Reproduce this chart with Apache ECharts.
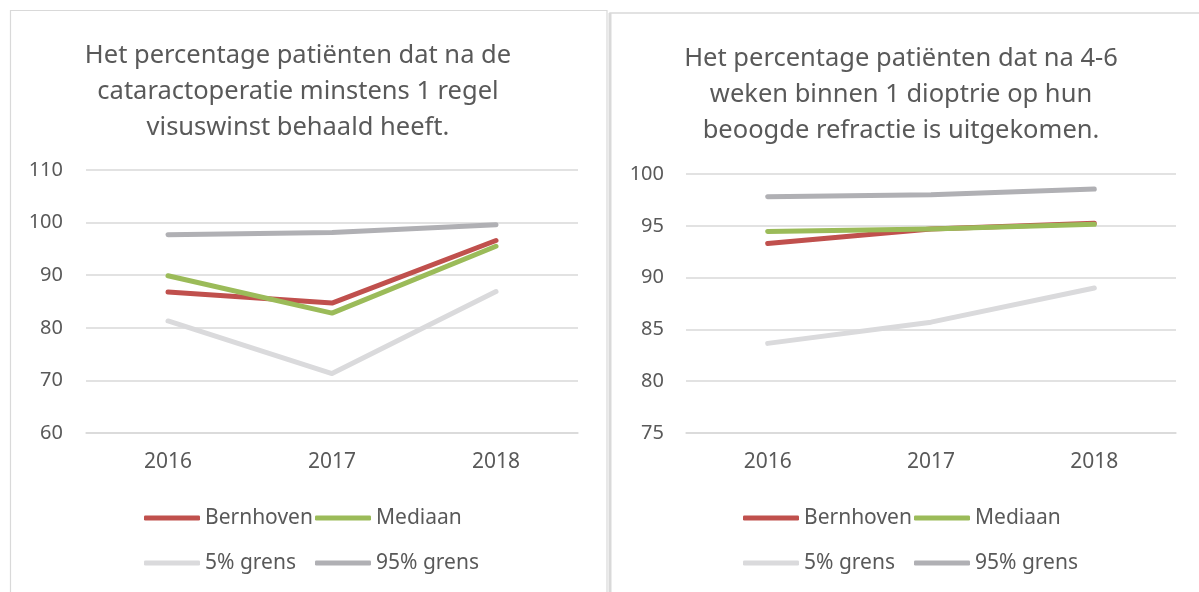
<!DOCTYPE html>
<html>
<head>
<meta charset="utf-8">
<script src="https://cdn.jsdelivr.net/npm/echarts@6/dist/echarts.min.js"></script>
<style>
    html, body { margin: 0; padding: 0; background: #fff; overflow: hidden; }
    #chart { width: 1199px; height: 592px; }
</style>
</head>
<body>
<div id="chart"></div>
<script>
// shared categories and series names
var years = ['2016', '2017', '2018'];
var names = ['Bernhoven', 'Mediaan', '5% grens', '95% grens'];
var colors = ['#c0504d', '#9bbb59', '#dadadc', '#b0b0b4'];

// left chart: visuswinst
var visusTicks = [60, 70, 80, 90, 100, 110];
var visusBernhoven = [86.8, 84.7, 96.6];
var visusMediaan = [89.9, 82.8, 95.5];
var visusP5 = [81.3, 71.3, 86.9];
var visusP95 = [97.7, 98.1, 99.6];

// right chart: refractie
var refrTicks = [75, 80, 85, 90, 95, 100];
var refrBernhoven = [93.3, 94.7, 95.25];
var refrMediaan = [94.45, 94.7, 95.15];
var refrP5 = [83.65, 85.7, 89.0];
var refrP95 = [97.8, 98.0, 98.55];

var font = 'Noto Sans';
var textColor = '#595959';
var gridColor = '#d9d9d9';

var chart = echarts.init(document.getElementById('chart'));

function makeSeries(idx, data) {
    return data.map(function (vals, i) {
        return {
            name: names[i],
            type: 'line',
            xAxisIndex: idx,
            yAxisIndex: idx,
            data: vals,
            symbol: 'none',
            color: colors[i],
            lineStyle: { width: 5, color: colors[i], cap: 'round', join: 'round' },
            animation: false
        };
    });
}

function makeLegend(left, top, items) {
    return {
        left: left,
        top: top,
        padding: 0,
        itemGap: 0,
        itemWidth: 56,
        itemHeight: 5,
        icon: 'roundRect',
        data: items,
        textStyle: { fontFamily: font, fontSize: 21, color: textColor, width: 110, lineHeight: 24 }
    };
}

function yAxis(gridIdx, ticks, margin) {
    return {
        type: 'value',
        gridIndex: gridIdx,
        min: ticks[0],
        max: ticks[ticks.length - 1],
        interval: ticks[1] - ticks[0],
        axisLine: { show: false },
        axisTick: { show: false },
        axisLabel: { fontFamily: font, fontSize: 20, color: textColor, margin: margin },
        splitLine: { lineStyle: { color: gridColor, width: 1.5 } }
    };
}

function xAxis(gridIdx) {
    return {
        type: 'category',
        gridIndex: gridIdx,
        data: years,
        boundaryGap: true,
        axisLine: { lineStyle: { color: gridColor, width: 1.5 } },
        axisTick: { show: false },
        axisLabel: { fontFamily: font, fontSize: 21, color: textColor, margin: 19 }
    };
}

var titleStyle = { fontFamily: font, fontSize: 25.5, fontWeight: 'normal', color: textColor, lineHeight: 36 };

var option = {
    backgroundColor: '#fff',
    title: [{
        text: 'Het percentage patiënten dat na de\ncataractoperatie minstens 1 regel\nvisuswinst behaald heeft.',
        left: 298, top: 38, textAlign: 'center', padding: 0,
        textStyle: titleStyle
    }, {
        text: 'Het percentage patiënten dat na 4-6\nweken binnen 1 dioptrie op hun\nbeoogde refractie is uitgekomen.',
        left: 901, top: 41, textAlign: 'center', padding: 0,
        textStyle: titleStyle
    }],
    legend: [
        makeLegend(144, 506, ['Bernhoven', 'Mediaan']),
        makeLegend(144, 551, ['5% grens', '95% grens']),
        makeLegend(743, 506, ['Bernhoven', 'Mediaan']),
        makeLegend(743, 551, ['5% grens', '95% grens'])
    ],
    grid: [
        { left: 86, right: 621, top: 170, bottom: 159 },
        { left: 686, right: 23, top: 174, bottom: 159 }
    ],
    xAxis: [xAxis(0), xAxis(1)],
    yAxis: [yAxis(0, visusTicks, 23), yAxis(1, refrTicks, 22)],
    series: makeSeries(0, [visusBernhoven, visusMediaan, visusP5, visusP95])
        .concat(makeSeries(1, [refrBernhoven, refrMediaan, refrP5, refrP95])),
    graphic: [
        { type: 'rect', shape: { x: 10.5, y: 10.5, width: 596.5, height: 620 }, style: { fill: 'none', stroke: gridColor, lineWidth: 1.2 }, silent: true },
        { type: 'rect', shape: { x: 610, y: 13, width: 620, height: 620 }, style: { fill: 'none', stroke: gridColor, lineWidth: 1.5 }, silent: true },
        { type: 'line', shape: { x1: 610, y1: 13, x2: 610, y2: 600 }, style: { stroke: gridColor, lineWidth: 3 }, silent: true }
    ]
};

chart.setOption(option);
</script>
</body>
</html>
